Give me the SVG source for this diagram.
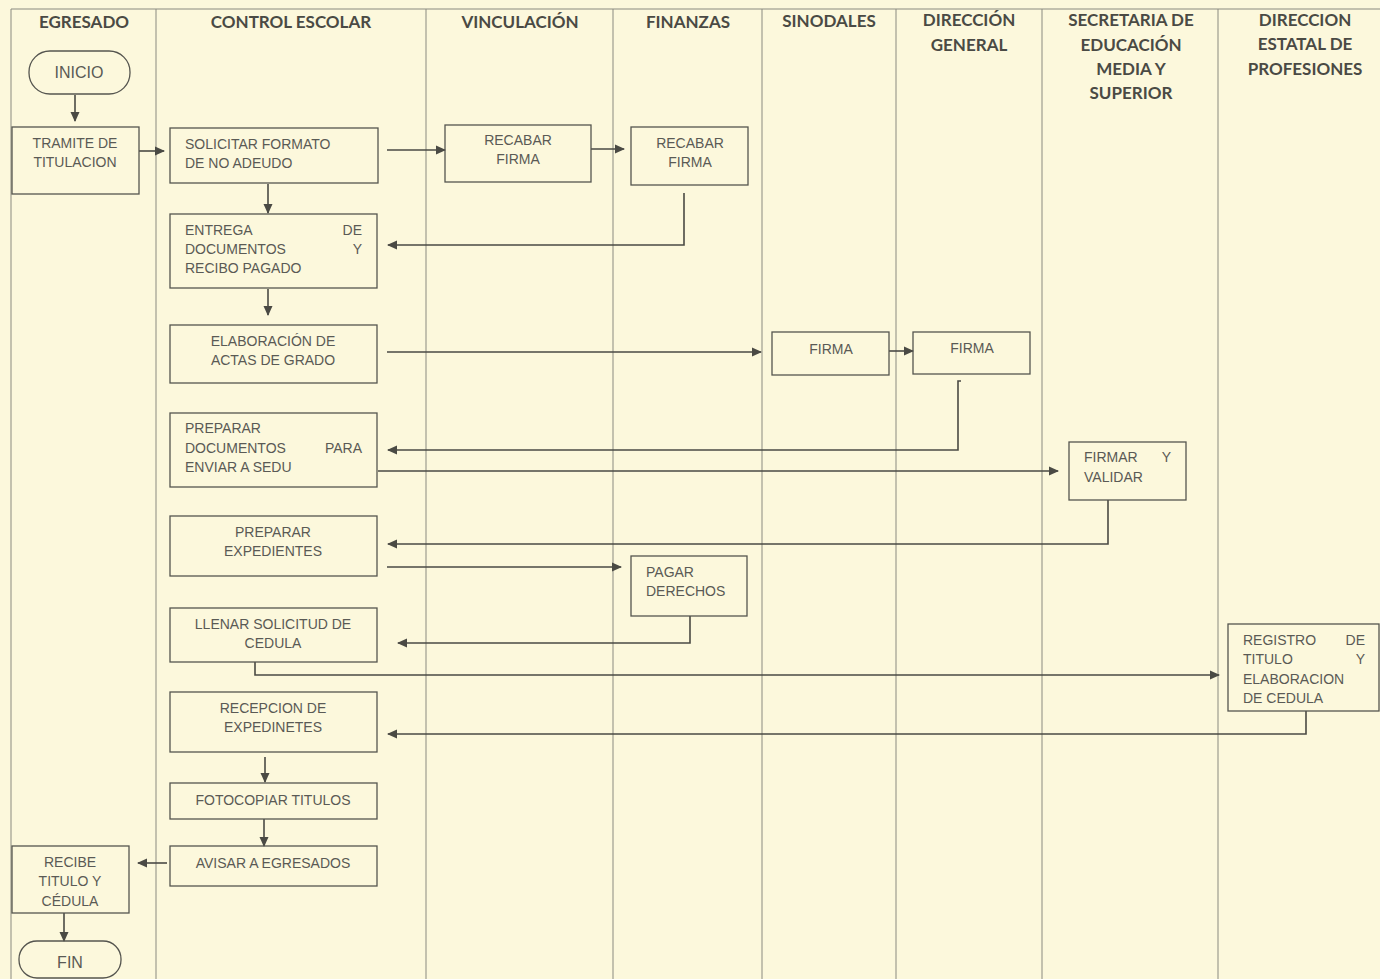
<svg xmlns="http://www.w3.org/2000/svg" width="1380" height="979" viewBox="0 0 1380 979">
<style>
.bg{fill:#fcf8dc}
.lane{stroke:#8a8a80;stroke-width:1;fill:none}
.hdr{font-family:Lato,"Open Sans","Liberation Sans",sans-serif;font-weight:bold;font-size:17px;fill:#4a4a44;text-anchor:middle}
.box{fill:none;stroke:#55554f;stroke-width:1.3}
.t{font-family:"Liberation Sans",Arial,sans-serif;font-size:14px;fill:#5a5a55}
.c{text-anchor:middle}
.e{text-anchor:end}
.big{font-size:16px}
.conn{stroke:#4a4a44;stroke-width:1.6;fill:none}
</style>
<defs>
<marker id="ah" viewBox="0 0 10 10" refX="9" refY="5" markerWidth="10" markerHeight="10" markerUnits="userSpaceOnUse" orient="auto">
<path d="M0,0.5 L10,5 L0,9.5 Z" fill="#4a4a44"/>
</marker>
</defs>
<rect class="bg" x="0" y="0" width="1380" height="979"/>
<g id="lanes">
<line class="lane" x1="11" y1="9" x2="1380" y2="9"/>
<line class="lane" x1="11" y1="9" x2="11" y2="979"/>
<line class="lane" x1="156" y1="9" x2="156" y2="979"/>
<line class="lane" x1="426" y1="9" x2="426" y2="979"/>
<line class="lane" x1="613" y1="9" x2="613" y2="979"/>
<line class="lane" x1="762" y1="9" x2="762" y2="979"/>
<line class="lane" x1="896" y1="9" x2="896" y2="979"/>
<line class="lane" x1="1042" y1="9" x2="1042" y2="979"/>
<line class="lane" x1="1218" y1="9" x2="1218" y2="979"/>
<text class="hdr" x="84" y="28">EGRESADO</text>
<text class="hdr" x="291" y="28">CONTROL ESCOLAR</text>
<text class="hdr" x="520" y="28">VINCULACIÓN</text>
<text class="hdr" x="688" y="28">FINANZAS</text>
<text class="hdr" x="829" y="27">SINODALES</text>
<text class="hdr" x="969" y="26">DIRECCIÓN</text>
<text class="hdr" x="969" y="51">GENERAL</text>
<text class="hdr" x="1131" y="26">SECRETARIA DE</text>
<text class="hdr" x="1131" y="51">EDUCACIÓN</text>
<text class="hdr" x="1131" y="75">MEDIA Y</text>
<text class="hdr" x="1131" y="99">SUPERIOR</text>
<text class="hdr" x="1305" y="26">DIRECCION</text>
<text class="hdr" x="1305" y="50">ESTATAL DE</text>
<text class="hdr" x="1305" y="75">PROFESIONES</text>
</g>
<g id="connectors">
<line class="conn" x1="75" y1="95" x2="75" y2="121" marker-end="url(#ah)"/>
<line class="conn" x1="139" y1="151" x2="164" y2="151" marker-end="url(#ah)"/>
<line class="conn" x1="387" y1="150" x2="445" y2="150" marker-end="url(#ah)"/>
<line class="conn" x1="591" y1="149" x2="624" y2="149" marker-end="url(#ah)"/>
<line class="conn" x1="268" y1="184" x2="268" y2="213" marker-end="url(#ah)"/>
<polyline class="conn" points="684,193 684,245 388,245" marker-end="url(#ah)"/>
<line class="conn" x1="268" y1="289" x2="268" y2="315" marker-end="url(#ah)"/>
<line class="conn" x1="387" y1="352" x2="761" y2="352" marker-end="url(#ah)"/>
<line class="conn" x1="889" y1="351" x2="913" y2="351" marker-end="url(#ah)"/>
<polyline class="conn" points="961,381 958,381 958,450 388,450" marker-end="url(#ah)"/>
<line class="conn" x1="378" y1="471" x2="1058" y2="471" marker-end="url(#ah)"/>
<polyline class="conn" points="1108,500 1108,544 388,544" marker-end="url(#ah)"/>
<line class="conn" x1="387" y1="567" x2="621" y2="567" marker-end="url(#ah)"/>
<polyline class="conn" points="690,616 690,643 398,643" marker-end="url(#ah)"/>
<polyline class="conn" points="255,662 255,675 1219,675" marker-end="url(#ah)"/>
<polyline class="conn" points="1306,711 1306,734 388,734" marker-end="url(#ah)"/>
<line class="conn" x1="265" y1="757" x2="265" y2="782" marker-end="url(#ah)"/>
<line class="conn" x1="264" y1="819" x2="264" y2="846" marker-end="url(#ah)"/>
<line class="conn" x1="167" y1="863" x2="138" y2="863" marker-end="url(#ah)"/>
<line class="conn" x1="64" y1="913" x2="64" y2="941" marker-end="url(#ah)"/>
</g>
<g id="n-inicio"><rect class="box" x="29" y="51" width="101" height="43" rx="21"/><text class="t c big" x="79" y="78">INICIO</text></g>
<g id="n-tramite"><rect class="box" x="12" y="127" width="127" height="67"/><text class="t c" x="75" y="148">TRAMITE DE</text><text class="t c" x="75" y="167">TITULACION</text></g>
<g id="n-solicitar"><rect class="box" x="170" y="128" width="208" height="55"/><text class="t" x="185" y="149">SOLICITAR FORMATO</text><text class="t" x="185" y="168">DE NO ADEUDO</text></g>
<g id="n-recabar1"><rect class="box" x="445" y="125" width="146" height="57"/><text class="t c" x="518" y="145">RECABAR</text><text class="t c" x="518" y="164">FIRMA</text></g>
<g id="n-recabar2"><rect class="box" x="631" y="127" width="117" height="58"/><text class="t c" x="690" y="148">RECABAR</text><text class="t c" x="690" y="167">FIRMA</text></g>
<g id="n-entrega"><rect class="box" x="170" y="214" width="207" height="74"/><text class="t" x="185" y="235">ENTREGA</text><text class="t e" x="362" y="235">DE</text><text class="t" x="185" y="254">DOCUMENTOS</text><text class="t e" x="362" y="254">Y</text><text class="t" x="185" y="273">RECIBO PAGADO</text></g>
<g id="n-elaboracion"><rect class="box" x="170" y="325" width="207" height="58"/><text class="t c" x="273" y="346">ELABORACIÓN DE</text><text class="t c" x="273" y="365">ACTAS DE GRADO</text></g>
<g id="n-firma1"><rect class="box" x="772" y="332" width="117" height="43"/><text class="t c" x="831" y="354">FIRMA</text></g>
<g id="n-firma2"><rect class="box" x="913" y="332" width="117" height="42"/><text class="t c" x="972" y="353">FIRMA</text></g>
<g id="n-preparar-docs"><rect class="box" x="170" y="413" width="207" height="74"/><text class="t" x="185" y="433">PREPARAR</text><text class="t" x="185" y="453">DOCUMENTOS</text><text class="t e" x="362" y="453">PARA</text><text class="t" x="185" y="472">ENVIAR A SEDU</text></g>
<g id="n-firmar-validar"><rect class="box" x="1069" y="442" width="117" height="58"/><text class="t" x="1084" y="462">FIRMAR</text><text class="t e" x="1171" y="462">Y</text><text class="t" x="1084" y="482">VALIDAR</text></g>
<g id="n-preparar-exp"><rect class="box" x="170" y="516" width="207" height="60"/><text class="t c" x="273" y="537">PREPARAR</text><text class="t c" x="273" y="556">EXPEDIENTES</text></g>
<g id="n-pagar"><rect class="box" x="631" y="556" width="116" height="60"/><text class="t" x="646" y="577">PAGAR</text><text class="t" x="646" y="596">DERECHOS</text></g>
<g id="n-llenar"><rect class="box" x="170" y="608" width="207" height="54"/><text class="t c" x="273" y="629">LLENAR SOLICITUD DE</text><text class="t c" x="273" y="648">CEDULA</text></g>
<g id="n-registro"><rect class="box" x="1228" y="624" width="151" height="87"/><text class="t" x="1243" y="645">REGISTRO</text><text class="t e" x="1365" y="645">DE</text><text class="t" x="1243" y="664">TITULO</text><text class="t e" x="1365" y="664">Y</text><text class="t" x="1243" y="684">ELABORACION</text><text class="t" x="1243" y="703">DE CEDULA</text></g>
<g id="n-recepcion"><rect class="box" x="170" y="692" width="207" height="60"/><text class="t c" x="273" y="713">RECEPCION DE</text><text class="t c" x="273" y="732">EXPEDINETES</text></g>
<g id="n-fotocopiar"><rect class="box" x="170" y="783" width="207" height="36"/><text class="t c" x="273" y="805">FOTOCOPIAR TITULOS</text></g>
<g id="n-avisar"><rect class="box" x="170" y="846" width="207" height="40"/><text class="t c" x="273" y="868">AVISAR A EGRESADOS</text></g>
<g id="n-recibe"><rect class="box" x="12" y="846" width="117" height="67"/><text class="t c" x="70" y="867">RECIBE</text><text class="t c" x="70" y="886">TITULO Y</text><text class="t c" x="70" y="906">CÉDULA</text></g>
<g id="n-fin"><rect class="box" x="19" y="941" width="102" height="37" rx="18"/><text class="t c big" x="70" y="968">FIN</text></g>
</svg>
